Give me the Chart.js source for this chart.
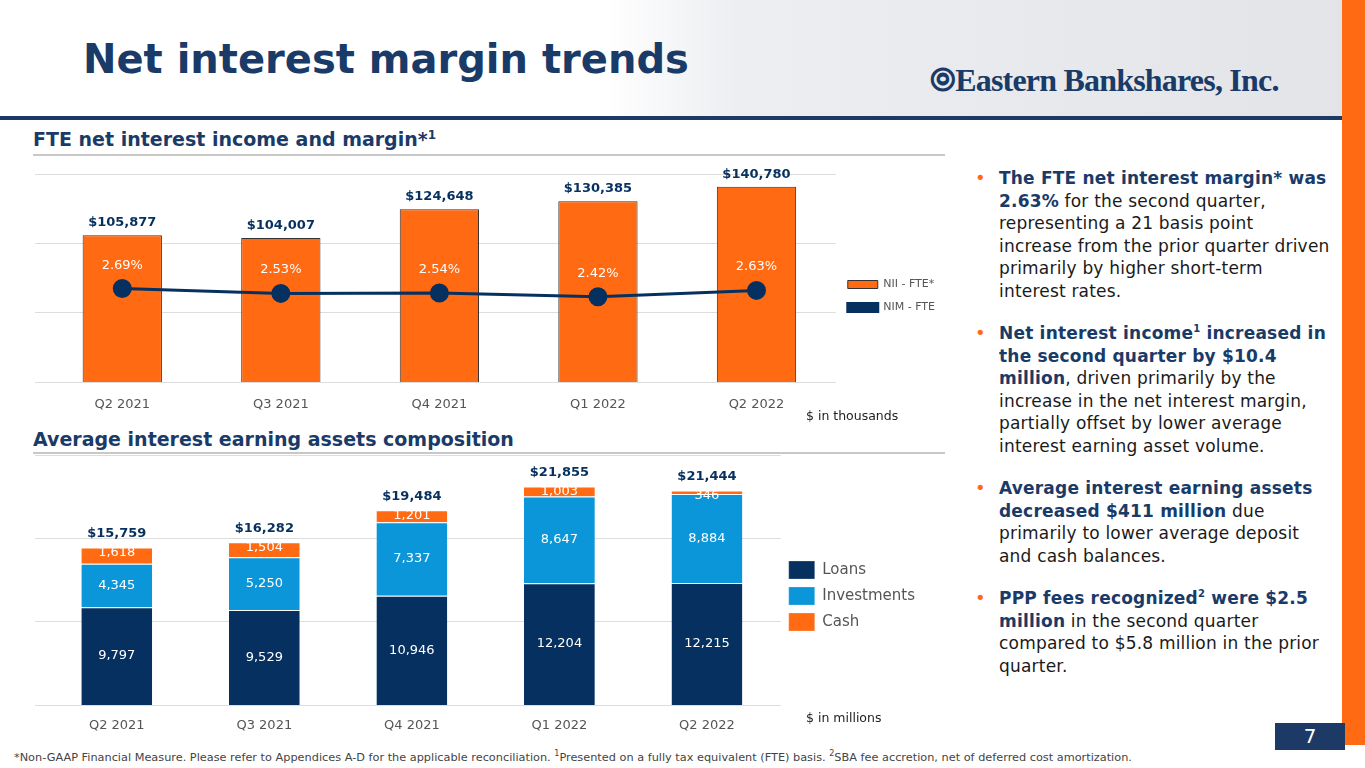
<!DOCTYPE html>
<html><head><meta charset="utf-8">
<script src="https://cdn.jsdelivr.net/npm/chart.js@4"></script>
<style>
body{margin:0;width:1365px;height:768px;overflow:hidden;background:#fff;font-family:"DejaVu Sans",sans-serif;position:relative}
.abs{position:absolute}
sup{line-height:0}
#hdr{left:0;top:0;width:1342px;height:117px;background:linear-gradient(90deg,#fff 0%,#fff 45%,#eceef1 55%,#e2e4e8 100%)}
#hline{left:0;top:116px;width:1342px;height:4px;background:#1d3a66}
#strip{left:1342px;top:0;width:23px;height:745px;background:#ff6a13}
h1{position:absolute;left:83px;top:36px;margin:0;font:bold 40px "DejaVu Sans",sans-serif;color:#1a3a68}
#logo{left:930px;top:62px;font:bold 32px "Liberation Serif",serif;color:#1a3a68;letter-spacing:-0.8px}
.sec{font:bold 19px "DejaVu Sans",sans-serif;color:#1a3a68}
.rule{height:2px;background:#c8c8c8}
#bul{left:999px;top:167px;width:332px;font-size:17px;line-height:22.5px;color:#1a1a1a;letter-spacing:0.2px}
#bul p{margin:0 0 20px 0;position:relative}
#bul p:before{content:"•";color:#ff6a13;position:absolute;left:-24px;font-size:18px}
#bul b{color:#1a3a68}
.note{font-size:12.5px;color:#222}
#foot{left:14px;top:751px;font-size:11.3px;color:#444}
#pg{left:1275px;top:723px;width:70px;height:27px;background:#1d3a66;color:#fff;font-size:20px;text-align:center;line-height:27px}
</style></head><body>
<div id="hdr" class="abs"></div><div id="hline" class="abs"></div><div id="strip" class="abs"></div>
<h1>Net interest margin trends</h1>
<div id="logo" class="abs">&#10686;Eastern Bankshares, Inc.</div>
<div class="abs sec" style="left:33px;top:128px">FTE net interest income and margin*<sup style="font-size:12px">1</sup></div>
<div class="abs rule" style="left:33px;top:154px;width:912px"></div>
<div class="abs sec" style="left:33px;top:428px">Average interest earning assets composition</div>
<div class="abs rule" style="left:33px;top:452px;width:912px"></div>
<div class="abs" style="left:0;top:159px;width:945px;height:259px"><canvas id="c1"></canvas></div>
<div class="abs" style="left:0;top:450px;width:945px;height:299px"><canvas id="c2"></canvas></div>
<div class="abs note" style="left:806px;top:408px">$ in thousands</div>
<div class="abs note" style="left:806px;top:710px">$ in millions</div>
<div id="bul" class="abs">
<p><b>The FTE net interest margin* was 2.63%</b> for the second quarter, representing a 21 basis point increase from the prior quarter driven primarily by higher short-term interest rates.</p>
<p><b>Net interest income<sup style="font-size:10px">1</sup> increased in the second quarter by $10.4 million</b>, driven primarily by the increase in the net interest margin, partially offset by lower average interest earning asset volume.</p>
<p><b>Average interest earning assets decreased $411 million</b> due primarily to lower average deposit and cash balances.</p>
<p><b>PPP fees recognized<sup style="font-size:10px">2</sup> were $2.5 million</b> in the second quarter compared to $5.8 million in the prior quarter.</p>
</div>
<div id="foot" class="abs">*Non-GAAP Financial Measure. Please refer to Appendices A-D for the applicable reconciliation. <sup style="font-size:8px">1</sup>Presented on a fully tax equivalent (FTE) basis. <sup style="font-size:8px">2</sup>SBA fee accretion, net of deferred cost amortization.</div>
<div id="pg" class="abs">7</div>
<script>
var quarters = ["Q2 2021","Q3 2021","Q4 2021","Q1 2022","Q2 2022"];
var nii = [105877,104007,124648,130385,140780];
var nim = [2.69,2.53,2.54,2.42,2.63];
var loans = [9797,9529,10946,12204,12215];
var investments = [4345,5250,7337,8647,8884];
var cash = [1618,1504,1201,1003,346];
var totals = [15759,16282,19484,21855,21444];

var navy = "#06305f", blue = "#0a96d8", orange = "#ff6a13";
Chart.defaults.font.family = "DejaVu Sans";
Chart.defaults.animation = false;

var fmt = function(v){ return v.toLocaleString("en-US"); };

var topLabels = {
  id: "topLabels",
  afterDatasetsDraw: function(ch){
    var c = ch.ctx, m = ch.getDatasetMeta(1), lm = ch.getDatasetMeta(0);
    c.save(); c.textAlign = "center";
    m.data.forEach(function(b,i){
      c.fillStyle = navy; c.font = "bold 13px 'DejaVu Sans'";
      c.fillText("$" + fmt(nii[i]), b.x, b.y - 9);
      c.fillStyle = "#fff"; c.font = "13px 'DejaVu Sans'";
      c.fillText(nim[i].toFixed(2) + "%", b.x, lm.data[i].y - 20);
    });
    c.restore();
  }
};

new Chart(document.getElementById("c1"), {
  data: {
    labels: quarters,
    datasets: [
      {type:"line", label:"NIM - FTE", data:nim, yAxisID:"y2", borderColor:navy, backgroundColor:navy, borderWidth:3, pointRadius:8, pointHoverRadius:8, order:0},
      {type:"bar", label:"NII - FTE*", data:nii, backgroundColor:orange, borderColor:"#333", borderWidth:1, barPercentage:0.5, categoryPercentage:1, order:1}
    ]
  },
  options: {
    responsive:true, maintainAspectRatio:false,
    layout:{padding:{left:35,right:0,top:15,bottom:0}},
    plugins:{
      legend:{position:"right", reverse:true, labels:{font:{size:11}, color:"#555", boxWidth:30, boxHeight:8, padding:12}},
      tooltip:{enabled:false}
    },
    scales:{
      x:{grid:{display:false}, border:{display:false}, ticks:{color:"#555", font:{size:13}, padding:6}},
      y:{min:0, max:150000, ticks:{display:false, stepSize:50000}, grid:{color:"#ddd"}, border:{display:false}},
      y2:{position:"right", min:-0.43, max:6.5, display:false}
    }
  },
  plugins:[topLabels]
});

var stackLabels = {
  id: "stackLabels",
  afterDatasetsDraw: function(ch){
    var c = ch.ctx;
    c.save(); c.textAlign = "center"; c.textBaseline = "middle";
    [loans, investments, cash].forEach(function(arr, d){
      ch.getDatasetMeta(d).data.forEach(function(b,i){
        c.fillStyle = "#fff"; c.font = "13px 'DejaVu Sans'";
        var y = (b.y + b.base) / 2;
        if (d == 2) y = b.y + 5;
        c.fillText(fmt(arr[i]), b.x, y);
      });
    });
    ch.getDatasetMeta(2).data.forEach(function(b,i){
      c.fillStyle = navy; c.font = "bold 13px 'DejaVu Sans'";
      c.fillText("$" + fmt(totals[i]), b.x, b.y - 14);
    });
    c.restore();
  }
};

new Chart(document.getElementById("c2"), {
  type:"bar",
  data: {
    labels: quarters,
    datasets: [
      {label:"Loans", data:loans, backgroundColor:navy},
      {label:"Investments", data:investments, backgroundColor:blue},
      {label:"Cash", data:cash, backgroundColor:orange}
    ].map(function(d){ d.borderColor="#fff"; d.borderWidth={top:1}; d.borderSkipped="bottom"; d.barPercentage=0.48; d.categoryPercentage=1; return d; })
  },
  options: {
    responsive:true, maintainAspectRatio:false,
    layout:{padding:{left:35,right:20,top:5,bottom:12}},
    plugins:{
      legend:{position:"right", labels:{font:{size:15}, color:"#555", boxWidth:26, boxHeight:18, padding:8}},
      tooltip:{enabled:false}
    },
    scales:{
      x:{stacked:true, grid:{display:false}, border:{display:false}, ticks:{color:"#555", font:{size:13}, padding:4}},
      y:{stacked:true, min:0, max:25000, ticks:{display:false, stepSize:10000}, grid:{color:"#ddd"}, border:{display:false}}
    }
  },
  plugins:[stackLabels]
});
</script>
</body></html>
